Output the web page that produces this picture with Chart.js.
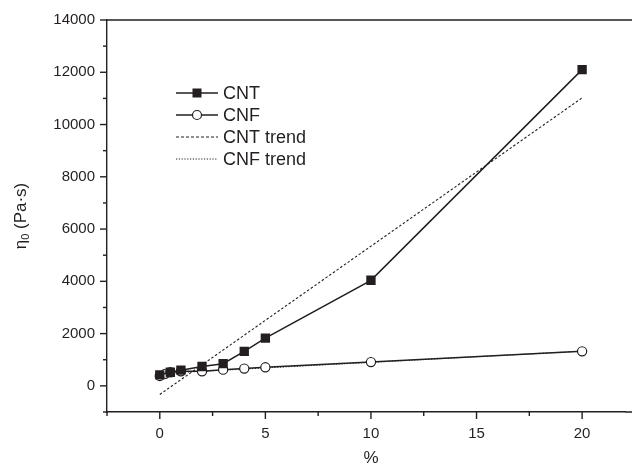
<!DOCTYPE html>
<html>
<head>
<meta charset="utf-8">
<script src="https://cdn.jsdelivr.net/npm/chart.js@4/dist/chart.umd.min.js"></script>
<style>
  html, body { margin: 0; padding: 0; background: #fff; }
  #wrap { width: 632px; height: 467px; }
</style>
</head>
<body>
<div id="wrap"><canvas id="viscChart"></canvas></div>
<script>
// Zero-shear viscosity vs filler content
const pctCNT = [0, 0.5, 1, 2, 3, 4, 5, 10, 20];
const viscCNT = [420, 520, 600, 740, 850, 1320, 1830, 4040, 12100];
const pctCNF = [0, 0.25, 0.5, 1, 2, 3, 4, 5, 10, 20];
const viscCNF = [380, 460, 520, 560, 560, 620, 660, 710, 910, 1320];

// Linear trend lines (end points)
const trendPct = [0, 20];
const trendCNT = [-330, 11020];
const trendCNF = [470, 1330];

// Axis ticks
const xTicks = [0, 5, 10, 15, 20];
const xMinor = [-2.5, 2.5, 7.5, 12.5, 17.5];
const yTicks = [0, 2000, 4000, 6000, 8000, 10000, 12000, 14000];
const yMinor = [-1000, 1000, 3000, 5000, 7000, 9000, 11000, 13000];

const ink = '#231f20';
const FONT = '"Liberation Sans", Arial, sans-serif';

const pts = (xs, ys) => xs.map((x, i) => ({ x: x, y: ys[i] }));

const legendItems = [
    { label: 'CNT', dash: [], marker: 'rect' },
    { label: 'CNF', dash: [], marker: 'circle' },
    { label: 'CNT trend', dash: [3, 2], marker: null },
    { label: 'CNF trend', dash: [1.2, 1.6], marker: null }
];

// Frame, outward ticks, axis titles and the legend box
const decorations = {
    id: 'decorations',
    afterDraw(chart) {
        const { ctx, chartArea: a, scales: { x, y } } = chart;
        ctx.save();
        ctx.strokeStyle = ink;
        ctx.lineWidth = 1.4;

        ctx.beginPath();
        ctx.moveTo(a.left, a.top);
        ctx.lineTo(chart.width, a.top);
        ctx.moveTo(a.right, a.bottom);
        ctx.lineTo(chart.width, a.bottom);
        ctx.stroke();

        const tickX = (v, len) => {
            const px = x.getPixelForValue(v);
            ctx.beginPath();
            ctx.moveTo(px, a.bottom);
            ctx.lineTo(px, a.bottom + len);
            ctx.stroke();
        };
        const tickY = (v, len) => {
            const py = y.getPixelForValue(v);
            ctx.beginPath();
            ctx.moveTo(a.left, py);
            ctx.lineTo(a.left - len, py);
            ctx.stroke();
        };
        xTicks.forEach(v => tickX(v, 7));
        xMinor.forEach(v => tickX(v, 4));
        yTicks.forEach(v => tickY(v, 7));
        yMinor.forEach(v => tickY(v, 4));

        // axis titles
        ctx.fillStyle = ink;
        ctx.font = '17px ' + FONT;
        ctx.textAlign = 'center';
        ctx.textBaseline = 'middle';
        ctx.fillText('%', x.getPixelForValue(10), 458);

        ctx.save();
        ctx.translate(20, (a.top + a.bottom) / 2);
        ctx.rotate(-Math.PI / 2);
        ctx.textAlign = 'left';
        ctx.textBaseline = 'alphabetic';
        const eta = 'η', sub = '0', rest = ' (Pa·s)';
        ctx.font = '17px ' + FONT;
        const wEta = ctx.measureText(eta).width;
        const wRest = ctx.measureText(rest).width;
        ctx.font = '11px ' + FONT;
        const wSub = ctx.measureText(sub).width;
        let cx = -(wEta + wSub + wRest) / 2;
        ctx.font = '17px ' + FONT;
        ctx.fillText(eta, cx, 6);
        cx += wEta;
        ctx.font = '11px ' + FONT;
        ctx.fillText(sub, cx, 9);
        cx += wSub;
        ctx.font = '17px ' + FONT;
        ctx.fillText(rest, cx, 6);
        ctx.restore();

        // legend
        const lx0 = 176, lx1 = 218, ty0 = 93, step = 22;
        ctx.font = '18px ' + FONT;
        ctx.textAlign = 'left';
        ctx.textBaseline = 'middle';
        legendItems.forEach((item, i) => {
            const ly = ty0 + i * step;
            ctx.lineWidth = item.marker ? 1.5 : 1;
            ctx.setLineDash(item.dash);
            ctx.beginPath();
            ctx.moveTo(lx0, ly);
            ctx.lineTo(lx1, ly);
            ctx.stroke();
            ctx.setLineDash([]);
            const mx = (lx0 + lx1) / 2;
            if (item.marker === 'rect') {
                ctx.fillStyle = ink;
                ctx.fillRect(mx - 4.5, ly - 4.5, 9, 9);
            } else if (item.marker === 'circle') {
                ctx.fillStyle = '#fff';
                ctx.lineWidth = 1.2;
                ctx.beginPath();
                ctx.arc(mx, ly, 4.5, 0, Math.PI * 2);
                ctx.fill();
                ctx.stroke();
            }
            ctx.fillStyle = ink;
            ctx.fillText(item.label, 223, ly + 1);
        });
        ctx.restore();
    }
};

new Chart(document.getElementById('viscChart'), {
    type: 'scatter',
    plugins: [decorations],
    data: {
        datasets: [
            {
                label: 'CNT',
                data: pts(pctCNT, viscCNT),
                showLine: true,
                borderColor: ink,
                borderWidth: 1.5,
                backgroundColor: ink,
                pointStyle: 'rect',
                pointRadius: 6.6,
                pointBorderWidth: 0
            },
            {
                label: 'CNF',
                data: pts(pctCNF, viscCNF),
                showLine: true,
                borderColor: ink,
                borderWidth: 1.5,
                backgroundColor: '#fff',
                pointStyle: 'circle',
                pointRadius: 4.6,
                pointBorderWidth: 1.2
            },
            {
                label: 'CNT trend',
                data: pts(trendPct, trendCNT),
                showLine: true,
                borderColor: ink,
                borderWidth: 1.1,
                borderDash: [2.5, 2],
                pointRadius: 0
            },
            {
                label: 'CNF trend',
                data: pts(trendPct, trendCNF),
                showLine: true,
                borderColor: ink,
                borderWidth: 1,
                borderDash: [1.2, 1.6],
                pointRadius: 0
            }
        ]
    },
    options: {
        responsive: true,
        maintainAspectRatio: false,
        animation: false,
        layout: { padding: { top: 20, right: 0, left: 0, bottom: 0 } },
        plugins: {
            legend: { display: false },
            tooltip: { enabled: false }
        },
        scales: {
            x: {
                type: 'linear',
                min: -2.5,
                max: 22.05,
                afterBuildTicks: (s) => { s.ticks = xTicks.map(v => ({ value: v })); },
                afterFit: (s) => { s.height = 55; },
                border: { display: true, color: ink, width: 1.4 },
                grid: { display: true, drawOnChartArea: false, drawTicks: true, tickLength: 7, tickColor: 'rgba(0,0,0,0)' },
                ticks: { color: ink, padding: 6, maxRotation: 0, font: { family: FONT, size: 15 } }
            },
            y: {
                type: 'linear',
                min: -1000,
                max: 14000,
                afterBuildTicks: (s) => { s.ticks = yTicks.map(v => ({ value: v })); },
                afterFit: (s) => { s.width = 107; },
                border: { display: true, color: ink, width: 1.4 },
                grid: { display: true, drawOnChartArea: false, drawTicks: true, tickLength: 7, tickColor: 'rgba(0,0,0,0)' },
                ticks: {
                    color: ink,
                    padding: 5,
                    font: { family: FONT, size: 15 },
                    callback: (v) => String(v)
                }
            }
        }
    }
});
</script>
</body>
</html>
